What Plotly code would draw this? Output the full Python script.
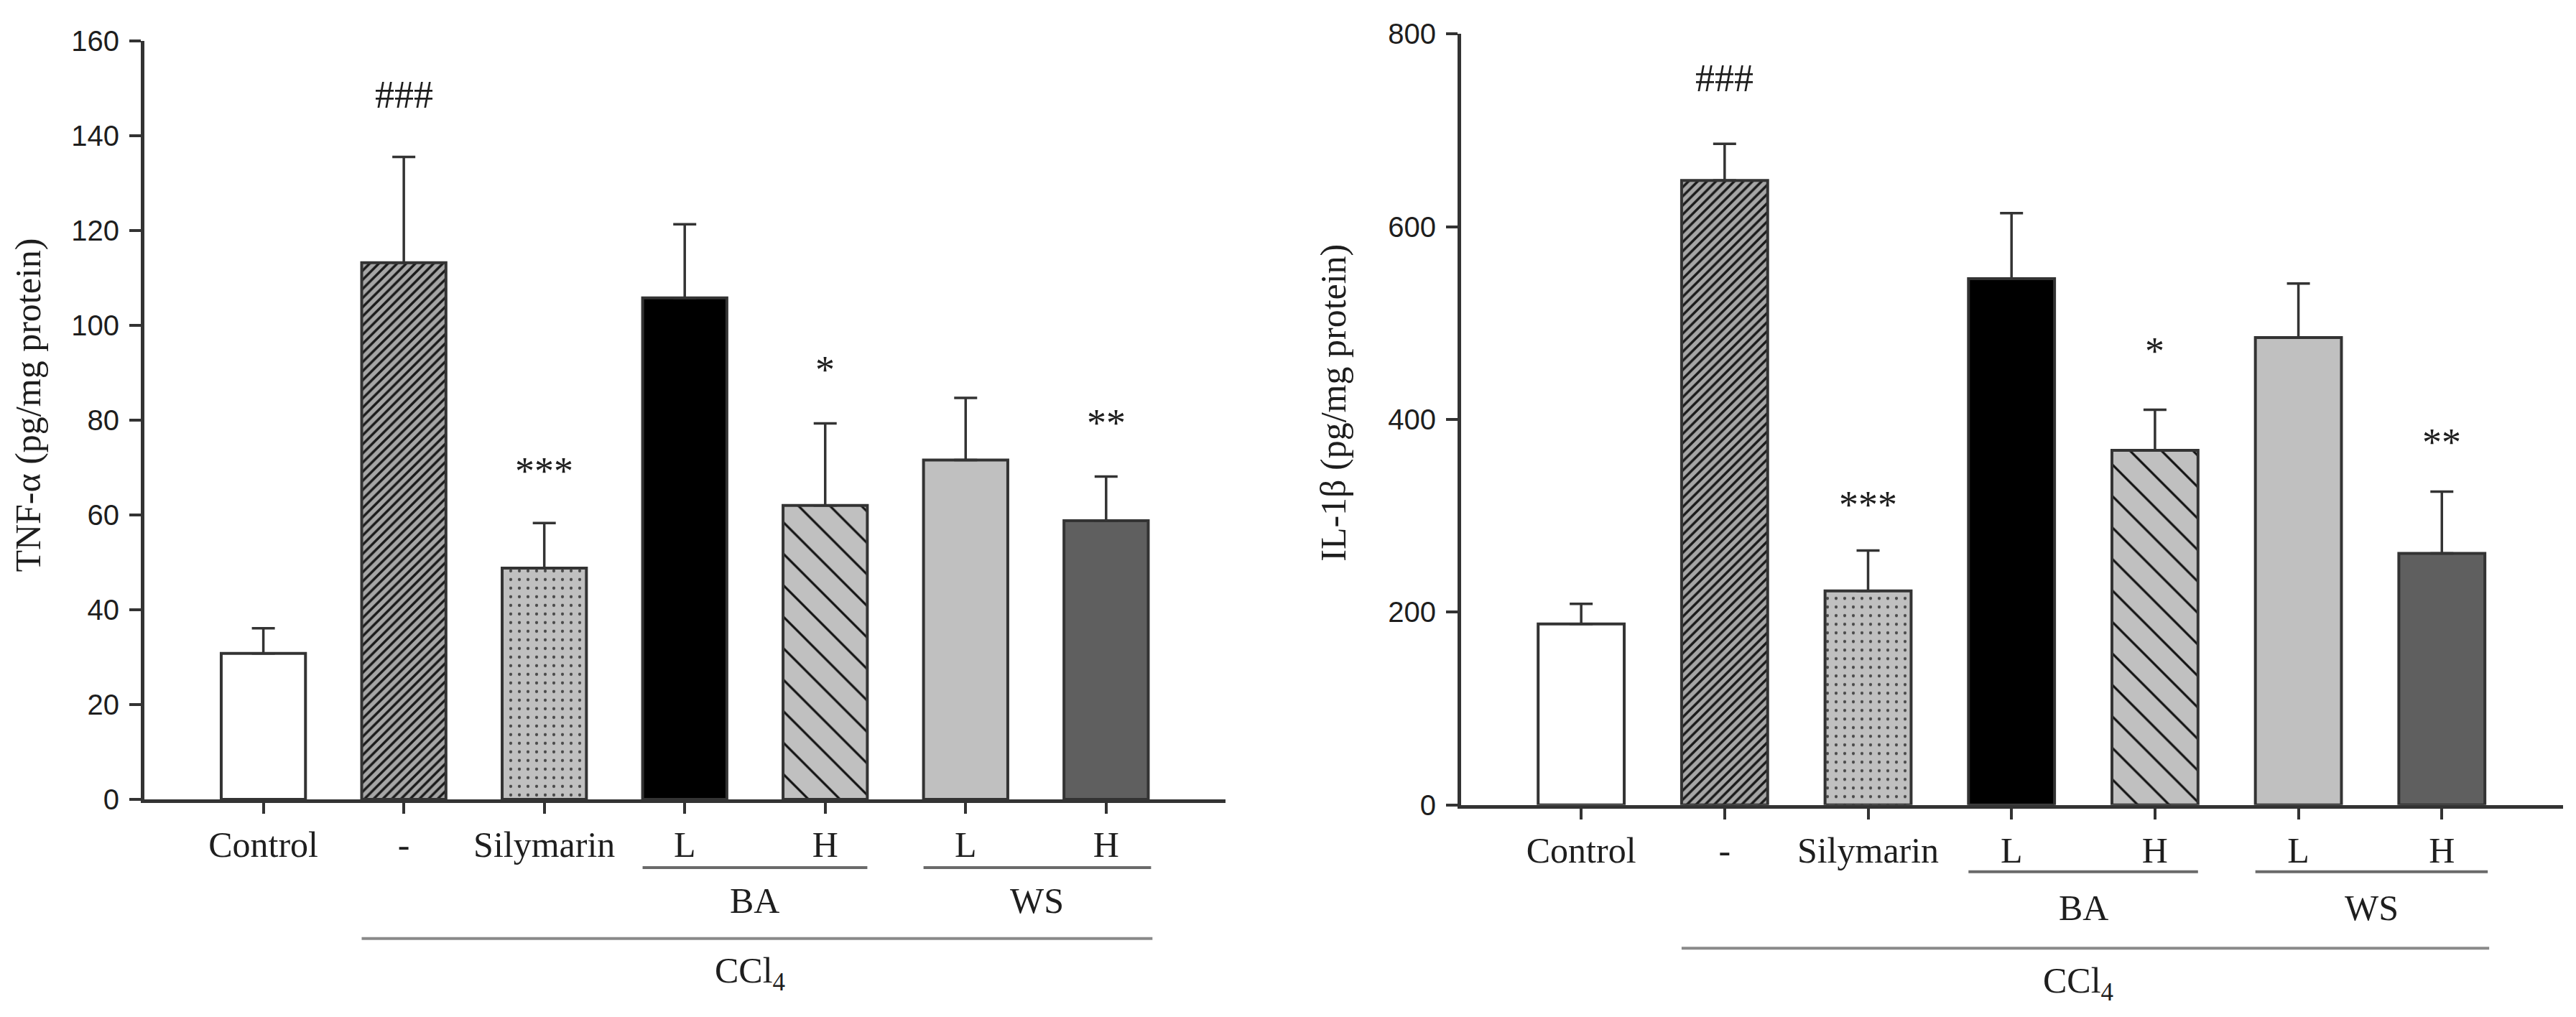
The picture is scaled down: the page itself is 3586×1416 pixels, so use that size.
import plotly.graph_objects as go

# ---------------- data ----------------
categories = ["Control", "-", "Silymarin", "L", "H", "L", "H"]

tnf_mean = [30.8, 113.2, 48.8, 105.8, 62.0, 71.6, 58.8]
tnf_sem = [5.3, 22.3, 9.5, 15.5, 17.3, 13.1, 9.3]
tnf_marks = ["", "###", "***", "", "*", "", "**"]
tnf_mark_y = [0, 148.6, 69.3, 0, 90.6, 0, 79.4]

il_mean = [187.7, 648, 222, 546, 368, 485, 261]
il_sem = [21, 38, 42, 68, 42, 56, 64]
il_marks = ["", "###", "***", "", "*", "", "**"]
il_mark_y = [0, 754, 311, 0, 471, 0, 376]

groups = ["BA", "WS"]
group_span = [(2.7, 4.3), (4.7, 6.32)]
outer_label = "CCl<sub>4</sub>"
outer_span = (0.7, 6.33)

tnf_title = "TNF-α (pg/mg protein)"
il_title = "IL-1β (pg/mg protein)"

# ---------------- style ----------------
W, H = 3586, 1416
SERIF = "Times New Roman, Liberation Serif, serif"
SANS = "Arial, Liberation Sans, sans-serif"
INK = "#1e1e1e"
AX = "#333333"

bar_colors = ["#ffffff", "#a6a6a6", "#c0c0c0", "#000000", "#c0c0c0", "#c0c0c0", "#5f5f5f"]
pat_shapes = ["", "/", ".", "", "\\", "", ""]
pat_fg = ["#000000", "#1a1a1a", "#4a4a4a", "#000000", "#111111", "#000000", "#000000"]
pat_size = [10, 9, 12, 10, 31, 10, 10]
pat_sol = [0.2, 0.38, 0.1, 0.2, 0.1, 0.2, 0.2]


def px_x(p):
    return p / W


def px_y(p):
    return 1 - p / H


xs = list(range(len(categories)))

fig = go.Figure()


def add_bars(mean, sem, xa, ya):
    for i in xs:
        pattern = dict(shape=pat_shapes[i], fgcolor=pat_fg[i], fgopacity=1,
                       size=pat_size[i], solidity=pat_sol[i], fillmode="overlay")
        fig.add_trace(go.Bar(
            x=[xs[i]], y=[mean[i]], width=0.6, xaxis=xa, yaxis=ya,
            marker=dict(color=bar_colors[i], line=dict(color=AX, width=4), pattern=pattern),
            error_y=dict(type="data", array=[sem[i]], arrayminus=[0], symmetric=False,
                         color=AX, thickness=3.5, width=16),
            showlegend=False, hoverinfo="skip",
        ))


add_bars(tnf_mean, tnf_sem, "x", "y")
add_bars(il_mean, il_sem, "x2", "y2")

axis_common = dict(showline=True, linecolor=AX, linewidth=5, showgrid=False, zeroline=False,
                   ticks="outside", tickcolor=AX, tickwidth=4)

fig.update_layout(
    width=W, height=H, margin=dict(l=0, r=0, t=0, b=0),
    paper_bgcolor="white", plot_bgcolor="white", showlegend=False, barmode="overlay",
    xaxis=dict(domain=[px_x(201), px_x(1706)], range=[-0.847, 6.85], tickvals=xs,
               ticktext=categories, ticklen=15, tickfont=dict(family=SERIF, size=50, color=INK),
               ticklabelstandoff=0, **axis_common),
    yaxis=dict(domain=[px_y(1126), px_y(36)], range=[0, 160], dtick=20, ticklen=16,
               tickfont=dict(family=SANS, size=40, color=INK), ticklabelstandoff=6, **axis_common),
    xaxis2=dict(domain=[px_x(2034), px_x(3568)], range=[-0.837, 6.845], tickvals=xs,
                ticktext=categories, ticklen=15, tickfont=dict(family=SERIF, size=50, color=INK),
                ticklabelstandoff=0, anchor="y2", **axis_common),
    yaxis2=dict(domain=[px_y(1134), px_y(26)], range=[0, 800], dtick=200, ticklen=16,
                tickfont=dict(family=SANS, size=40, color=INK), ticklabelstandoff=6,
                anchor="x2", **axis_common),
)

shapes = []
annotations = []


def add_group_lines(xref, grp_line_y, grp_lab_y, out_line_y, out_lab_y):
    for name, (a, b) in zip(groups, group_span):
        shapes.append(dict(type="line", xref=xref, yref="paper", x0=a, x1=b,
                           y0=px_y(grp_line_y), y1=px_y(grp_line_y),
                           line=dict(color="#6a6a6a", width=4)))
        annotations.append(dict(xref=xref, yref="paper", x=(a + b) / 2, y=px_y(grp_lab_y),
                                text=name, showarrow=False, yanchor="middle",
                                font=dict(family=SERIF, size=50, color=INK)))
    a, b = outer_span
    shapes.append(dict(type="line", xref=xref, yref="paper", x0=a, x1=b,
                       y0=px_y(out_line_y), y1=px_y(out_line_y),
                       line=dict(color="#8a8a8a", width=4)))
    annotations.append(dict(xref=xref, yref="paper", x=(a + b) / 2 - 0.05, y=px_y(out_lab_y),
                            text=outer_label, showarrow=False, yanchor="middle",
                            font=dict(family=SERIF, size=50, color=INK)))


add_group_lines("x", 1224, 1272, 1326, 1376)
add_group_lines("x2", 1230, 1282, 1340, 1390)


def add_marks(marks, ys, xref, yref):
    for x, m, yv in zip(xs, marks, ys):
        if m:
            annotations.append(dict(xref=xref, yref=yref, x=x, y=yv, text=m, showarrow=False,
                                    yanchor="middle",
                                    font=dict(family=SERIF, size=54, color=INK)))


add_marks(tnf_marks, tnf_mark_y, "x", "y")
add_marks(il_marks, il_mark_y, "x2", "y2")

annotations.append(dict(xref="paper", yref="paper", x=px_x(39), y=px_y(560), text=tnf_title,
                        textangle=-90, showarrow=False, xanchor="center", yanchor="middle",
                        font=dict(family=SERIF, size=50, color=INK)))
annotations.append(dict(xref="paper", yref="paper", x=px_x(1856), y=px_y(556), text=il_title,
                        textangle=-90, showarrow=False, xanchor="center", yanchor="middle",
                        font=dict(family=SERIF, size=50, color=INK)))

fig.update_layout(shapes=shapes, annotations=annotations)

fig.write_html("out.html", config={"displayModeBar": False},
               post_script="document.body.style.margin='0';document.body.style.overflow='hidden';")
